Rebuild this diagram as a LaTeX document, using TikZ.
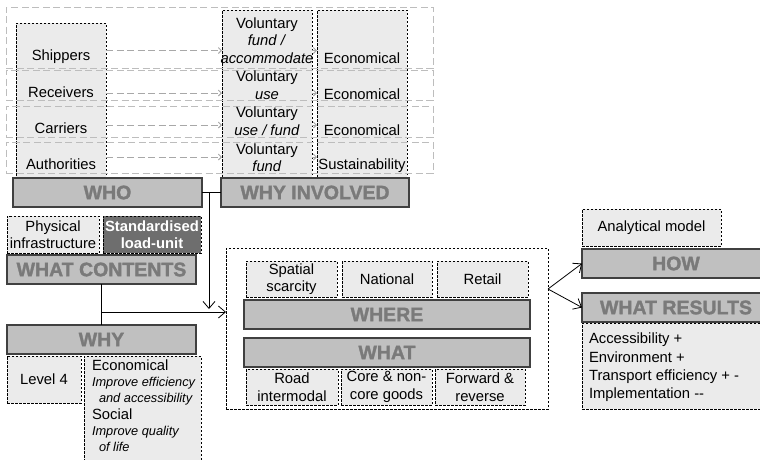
\documentclass[tikz,border=0pt]{standalone}
\usepackage{fontspec}
\setmainfont{Liberation Sans}
\newfontfamily\hdrfont[FakeBold=1.6]{Liberation Sans Bold}
\usetikzlibrary{arrows.meta}
\definecolor{lightfill}{HTML}{EBEBEB}
\definecolor{hdrfill}{HTML}{C0C0C0}
\definecolor{hdrtext}{HTML}{7A7A7A}
\definecolor{hdrdraw}{HTML}{404040}
\definecolor{darkfill}{HTML}{6E6E6E}
\definecolor{rowgray}{HTML}{BDBDBD}
\definecolor{arrgray}{HTML}{A8A8A8}
\tikzset{
 base/.style={inner sep=0pt, outer sep=0pt, font=\fontsize{14.8}{17.5}\selectfont, align=center},
 dbox/.style={base, draw=black, fill=lightfill, line width=0.8pt, dash pattern=on 2.5pt off 1.5pt},
 hdr/.style={base, draw=hdrdraw, fill=hdrfill, line width=1.2pt, text=hdrtext, font=\fontsize{19.5}{20}\hdrfont},
 rowbox/.style={base, draw=rowgray, line width=0.9pt, dash pattern=on 7pt off 3.5pt},
 garrow/.style={draw=arrgray, line width=0.9pt, dash pattern=on 7pt off 3.5pt, -{Straight Barb[length=3pt,width=6pt]}},
 conn/.style={draw=black, line width=0.8pt},
 carrow/.style={conn, -{Straight Barb[length=7pt,width=12pt]}},
 txt/.style={base},
}
\begin{document}
\begin{tikzpicture}[x=1pt,y=-1pt]
\useasboundingbox (0,0) rectangle (760,459);
\clip (0,0) rectangle (760,459);

% ---------- WHO / WHY INVOLVED columns ----------
\node[dbox, minimum width=90, minimum height=154] (colA) at (61,100) {};
\node[dbox, minimum width=90, minimum height=167] (colB) at (267,93.5) {};
\node[dbox, minimum width=90, minimum height=167] (colC) at (362,93.5) {};

\node[rowbox, minimum width=427, minimum height=61] (row1) at (219.5,37.5) {};
\node[rowbox, minimum width=427, minimum height=30] (row2) at (219.5,85) {};
\node[rowbox, minimum width=427, minimum height=31] (row3) at (219.5,121.5) {};
\node[rowbox, minimum width=427, minimum height=31] (row4) at (219.5,157.5) {};

\node[txt] (s1) at (61,57) {Shippers};
\node[txt] (s2) at (61,92) {Receivers};
\node[txt] (s3) at (61,128) {Carriers};
\node[txt] (s4) at (61,164) {Authorities};

\node[txt] (v1) at (267,40.5) {Voluntary\\\textit{fund /}\\\textit{accommodate}};
\node[txt] (v2) at (267,85) {Voluntary\\\textit{use}};
\node[txt] (v3) at (267,121) {Voluntary\\\textit{use / fund}};
\node[txt] (v4) at (267,157.5) {Voluntary\\\textit{fund}};

\node[txt] (e1) at (362,58) {Economical};
\node[txt] (e2) at (362,94) {Economical};
\node[txt] (e3) at (362,130) {Economical};
\node[txt] (e4) at (362,166) {Sustainability};

\coordinate (r1) at (0,50.5);
\coordinate (r2) at (0,93);
\coordinate (r3) at (0,125);
\coordinate (r4) at (0,157);
\foreach \r in {r1,r2,r3,r4}{
  \draw[garrow] (colA.east |- \r) -- (colB.west |- \r);
  \draw[garrow] (colB.east |- \r) -- (colC.west |- \r);
}

\node[hdr, minimum width=189, minimum height=29] (who) at (107.5,192.5) {WHO};
\node[hdr, minimum width=188, minimum height=29] (whyinv) at (315,192.5) {WHY INVOLVED};

% ---------- WHAT CONTENTS ----------
\node[dbox, minimum width=92, minimum height=37] (phys) at (53,234.5) {Physical\\infrastructure};
\node[dbox, fill=darkfill, text=white, font=\fontsize{14.8}{17}\selectfont\bfseries,
      minimum width=98, minimum height=37] (std) at (152,234.5) {Standardised\\load-unit};
\node[hdr, minimum width=189, minimum height=29] (wcont) at (101.5,269.5) {WHAT CONTENTS};

% ---------- WHY ----------
\node[hdr, minimum width=189, minimum height=29] (why) at (101.5,339.5) {WHY};
\node[dbox, minimum width=74, minimum height=47] (lvl) at (44,379.5) {Level 4};
\node[dbox, minimum width=117, minimum height=119] (econ) at (142.5,415.5) {};
\node[txt, anchor=north west, align=left, font=\fontsize{14.8}{16.3}\selectfont] (econtxt) at (92,359.5)
 {Economical\\
  {\fontsize{12.8}{16.3}\selectfont\itshape Improve efficiency}\\
  {\fontsize{12.8}{16.3}\selectfont\itshape\hspace*{7pt}and accessibility}\\
  Social\\
  {\fontsize{12.8}{16.3}\selectfont\itshape Improve quality}\\
  {\fontsize{12.8}{16.3}\selectfont\itshape\hspace*{7pt}of life}};

% ---------- WHERE / WHAT ----------
\node[base, draw=black, fill=white, line width=0.8pt, dash pattern=on 2.5pt off 1.5pt,
      minimum width=322, minimum height=161] (big) at (387,328.5) {};
\node[dbox, minimum width=91, minimum height=36] (spat) at (291.5,279) {Spatial\\scarcity};
\node[dbox, minimum width=90, minimum height=36] (nat) at (387,279) {National};
\node[dbox, minimum width=91, minimum height=36] (ret) at (482.5,279) {Retail};
\node[hdr, minimum width=286, minimum height=29] (where) at (387,314.5) {WHERE};
\node[hdr, minimum width=286, minimum height=29] (what) at (387,352.5) {WHAT};
\node[dbox, minimum width=92, minimum height=36] (road) at (292,387) {Road\\intermodal};
\node[dbox, minimum width=91, minimum height=36] (core) at (386.5,387) {Core \& non-\\core goods};
\node[dbox, minimum width=90, minimum height=36] (fwd) at (480,387) {Forward \&\\reverse};

% ---------- HOW / WHAT RESULTS ----------
\node[dbox, minimum width=139, minimum height=37] (anal) at (651.5,227.5) {Analytical model};
\node[hdr, minimum width=188, minimum height=29] (how) at (676,263.5) {HOW};
\node[hdr, minimum width=188, minimum height=29] (wres) at (676,307.5) {WHAT RESULTS};
\node[dbox, minimum width=188, minimum height=86] (res) at (676,366) {};
\node[txt, anchor=west, align=left, font=\fontsize{14.8}{18.3}\selectfont] (restxt) at (589,367.5)
 {Accessibility +\\Environment +\\Transport efficiency + -\\Implementation -{}-};

% ---------- connectors ----------
\draw[conn] (who.east) -- (whyinv.west);
\coordinate (j) at (209,192.5);
\coordinate (dtip) at (209,309);
\draw[carrow] (j) -- (dtip);
\draw[conn] (wcont.south) -- (why.north);
\coordinate (k) at (101.5,312);
\draw[carrow] (k) -- (big.west |- k);
\coordinate (m) at (548,289);
\draw[carrow] (m) -- (how.west);
\draw[carrow] (m) -- (wres.west);
\end{tikzpicture}
\end{document}
